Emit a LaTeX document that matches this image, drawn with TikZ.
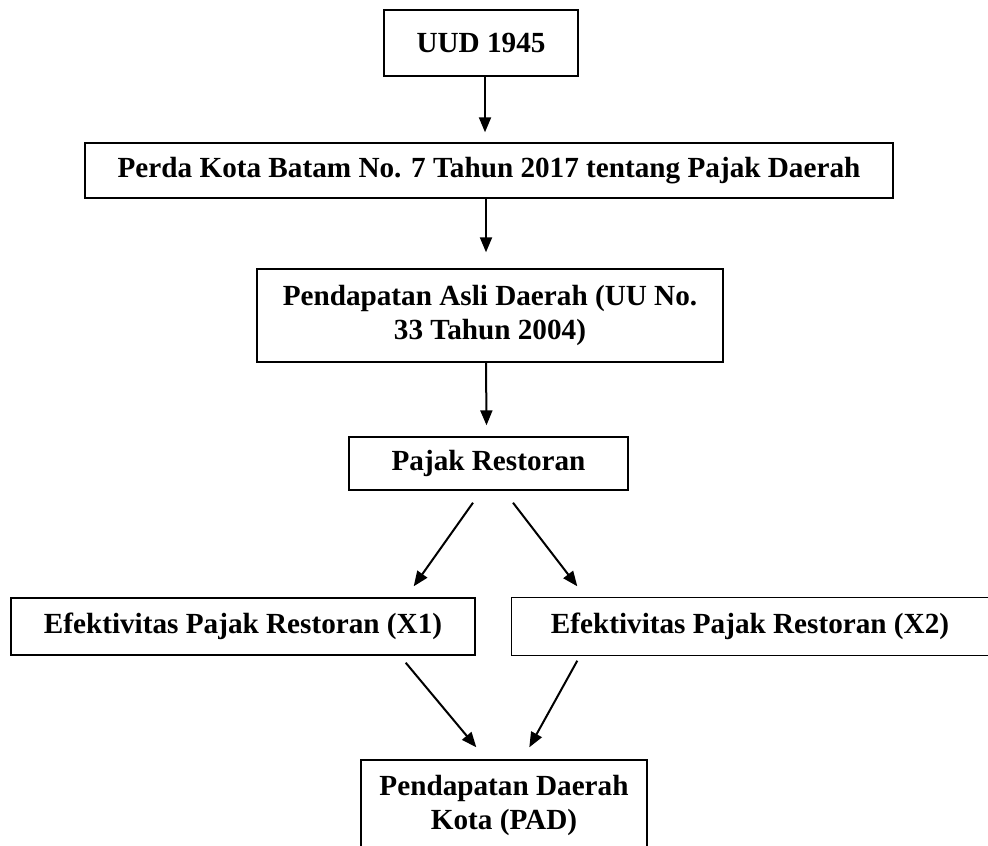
\documentclass[tikz,border=0pt]{standalone}
\usepackage{fontspec}
\setmainfont{Liberation Serif}
\usetikzlibrary{arrows.meta}

\begin{document}
\begin{tikzpicture}[x=0.5pt, y=-0.5pt,
    box/.style={draw, line width=0.7pt, inner sep=0pt, align=center,
      font=\fontsize{14.6}{16.8}\selectfont\bfseries},
    arr/.style={line width=1pt, -{Triangle[length=7.5pt, width=6pt]}}]
  \useasboundingbox (0,0) rectangle (988,845);
  \clip (0,0) rectangle (988,845);
  % Kotak-kotak kerangka pemikiran
  \node[box, minimum width=97pt, minimum height=33pt] (uud) at (481,43) {UUD 1945};
  \node[box, minimum width=404pt, minimum height=27.5pt] (perda) at (489,170.5)
    {Perda Kota Batam No. 7 Tahun 2017 tentang Pajak Daerah};
  \node[box, minimum width=233pt, minimum height=46.5pt] (pads) at (490,315.5)
    {Pendapatan Asli Daerah (UU No.\\ 33 Tahun 2004)};
  \node[box, minimum width=139.5pt, minimum height=26.5pt] (pajak) at (488.5,463.5) {Pajak Restoran};
  \node[box, minimum width=232pt, minimum height=28.5pt] (xsatu) at (243,626.5)
    {Efektivitas Pajak Restoran (X1)};
  \node[box, draw=none, minimum width=238pt, minimum height=28.5pt] (xdua) at (750,626.5)
    {Efektivitas Pajak Restoran (X2)};
  \draw[line width=0.7pt] ([xshift=10pt]xdua.north east) -- (xdua.north west)
    -- (xdua.south west) -- ([xshift=10pt]xdua.south east);
  \node[box, minimum width=143pt, minimum height=45.5pt] (pad) at (504,805.5)
    {Pendapatan Daerah\\ Kota (PAD)};
  % Panah
  \draw[arr] ([xshift=2pt]uud.south) -- ([xshift=-2pt, yshift=5pt]perda.north);
  \draw[arr] ([xshift=-1.5pt]perda.south) -- ([xshift=-2pt, yshift=8pt]pads.north);
  \draw[arr] ([xshift=-2pt]pads.south) -- ([xshift=-1pt, yshift=5.5pt]pajak.north);
  \draw[arr] ([xshift=-7.75pt, yshift=-6pt]pajak.south) -- ([xshift=-31pt, yshift=5.5pt]xsatu.north east);
  \draw[arr] ([xshift=12.25pt, yshift=-6pt]pajak.south) -- ([xshift=33pt, yshift=5.5pt]xdua.north west);
  \draw[arr] ([xshift=-35pt, yshift=-3.5pt]xsatu.south east) -- ([xshift=58pt, yshift=6pt]pad.north west);
  \draw[arr] ([xshift=33pt, yshift=-2.5pt]xdua.south west) -- ([xshift=84.5pt, yshift=6pt]pad.north west);
\end{tikzpicture}
\end{document}
